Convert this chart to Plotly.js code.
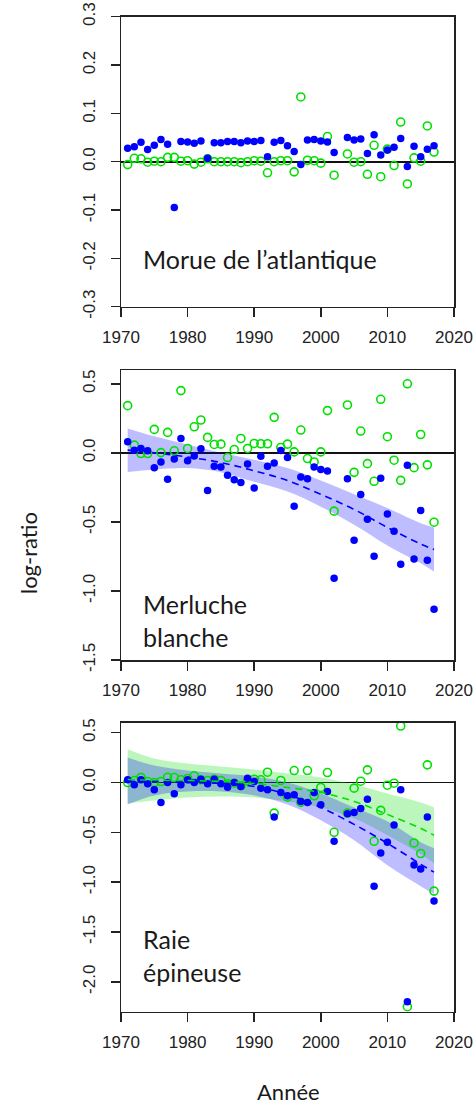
<!DOCTYPE html>
<html>
<head>
<meta charset="utf-8">
<script src="https://cdn.plot.ly/plotly-3.0.1.min.js"></script>
<style>html,body{margin:0;padding:0;background:#fff;}#chart{width:475px;height:1106px;}</style>
</head>
<body>
<div id="chart"></div>
<script>
// ---------- data ----------
const years = [1971,1972,1973,1974,1975,1976,1977,1978,1979,1980,1981,1982,1983,1984,1985,1986,1987,1988,1989,1990,1991,1992,1993,1994,1995,1996,1997,1998,1999,2000,2001,2002,2004,2005,2006,2007,2008,2009,2010,2011,2012,2013,2014,2015,2016,2017];

// Morue de l'atlantique
const codBlue = [0.028,0.031,0.040,0.025,0.034,0.046,0.036,-0.095,0.042,0.041,0.038,0.043,0.007,0.039,0.039,0.042,0.042,0.039,0.043,0.042,0.044,0.010,0.040,0.044,0.033,0.021,-0.006,0.045,0.046,0.043,0.041,0.019,0.050,0.045,0.047,0.017,0.056,0.014,0.024,0.030,0.048,-0.010,0.032,0.010,0.026,0.033];
const codGreen = [-0.006,0.007,0.006,-0.001,0.001,0.000,0.009,0.009,0.001,0.002,-0.005,-0.001,0.006,0.000,0.000,0.000,0.000,-0.002,0.000,0.002,0.001,-0.023,0.000,0.002,0.002,-0.021,0.134,0.003,0.002,-0.003,0.052,-0.028,0.016,-0.001,0.000,-0.026,0.034,-0.031,0.026,-0.008,0.082,-0.046,0.008,0.001,0.074,0.020];

// Merluche blanche
const hakeBlue = [0.080,0.019,0.032,0.015,-0.107,-0.066,-0.192,-0.044,0.104,-0.058,-0.022,0.029,-0.272,-0.097,-0.102,-0.163,-0.194,-0.214,-0.080,-0.255,-0.024,-0.097,-0.073,0.017,-0.034,-0.386,-0.175,-0.187,-0.102,-0.121,-0.131,-0.908,-0.187,-0.633,-0.301,-0.481,-0.748,-0.184,-0.442,-0.568,-0.806,-0.090,-0.769,-0.417,-0.777,-1.133];
const hakeGreen = [0.342,0.056,-0.005,-0.005,0.170,0.002,0.148,0.015,0.451,0.032,0.189,0.238,0.112,0.061,0.063,-0.034,0.024,0.104,0.032,0.068,0.066,0.066,0.257,0.039,0.063,0.007,0.165,-0.041,-0.066,0.007,0.306,-0.422,0.347,-0.141,0.158,-0.078,-0.206,0.388,0.117,-0.053,-0.199,0.500,-0.107,0.133,-0.087,-0.502];

// Raie épineuse
const skateBlue = [0.027,-0.023,0.027,-0.013,-0.073,-0.200,0.000,-0.113,-0.023,0.027,0.000,0.033,-0.013,0.033,-0.013,-0.047,0.000,-0.040,0.043,0.010,-0.057,-0.073,-0.347,-0.100,-0.133,-0.123,-0.190,-0.200,-0.100,-0.223,-0.090,-0.590,-0.313,-0.300,-0.260,-0.167,-1.040,-0.707,-0.600,-0.427,-0.073,-2.200,-0.827,-0.867,-0.347,-1.190];
const skateGreen = [0.000,0.020,0.050,0.010,0.000,0.010,0.053,0.050,0.027,0.040,0.067,0.027,0.020,0.033,0.020,-0.013,-0.007,-0.033,0.017,0.033,0.027,0.103,-0.307,0.020,-0.147,0.120,-0.200,0.120,-0.133,-0.050,0.100,-0.500,-0.307,-0.057,0.013,0.127,-0.590,-0.280,-0.027,-0.007,0.567,-2.250,-0.607,-0.713,0.177,-1.090];

// fitted trends
const fitYears = [1971,1975,1980,1985,1990,1995,2000,2005,2010,2015,2017];
const hakeFit   = [0.02,0.00,-0.03,-0.07,-0.13,-0.20,-0.30,-0.41,-0.54,-0.66,-0.70];
const hakeUpper = [0.177,0.12,0.06,0.00,-0.05,-0.11,-0.20,-0.30,-0.40,-0.51,-0.54];
const hakeLower = [-0.138,-0.12,-0.11,-0.14,-0.21,-0.28,-0.39,-0.52,-0.67,-0.80,-0.86];

const skateBlueFit   = [0.01,0.01,0.00,-0.01,-0.04,-0.12,-0.25,-0.42,-0.61,-0.82,-0.90];
const skateBlueUpper = [0.25,0.17,0.12,0.09,0.06,0.00,-0.11,-0.25,-0.39,-0.60,-0.66];
const skateBlueLower = [-0.22,-0.13,-0.09,-0.09,-0.13,-0.22,-0.38,-0.58,-0.83,-1.04,-1.12];
const skateGreenFit   = [0.03,0.02,0.02,0.01,-0.01,-0.05,-0.10,-0.19,-0.32,-0.46,-0.53];
const skateGreenUpper = [0.333,0.24,0.19,0.16,0.13,0.09,0.05,-0.02,-0.11,-0.20,-0.25];
const skateGreenLower = [-0.21,-0.18,-0.15,-0.14,-0.15,-0.19,-0.25,-0.36,-0.53,-0.72,-0.81];

// tick labels
const xTickVals = [1970,1980,1990,2000,2010,2020];
const xTickText = ['1970','1980','1990','2000','2010','2020'];
const y1TickVals = [0.3,0.2,0.1,0,-0.1,-0.2,-0.3];
const y1TickText = ['0.3','0.2','0.1','0.0','-0.1','-0.2','-0.3'];
const y2TickVals = [0.5,0,-0.5,-1,-1.5];
const y2TickText = ['0.5','0.0','-0.5','-1.0','-1.5'];
const y3TickVals = [0.5,0,-0.5,-1,-1.5,-2];
const y3TickText = ['0.5','0.0','-0.5','-1.0','-1.5','-2.0'];

const panelLabels = ['Morue de l’atlantique','Merluche<br>blanche','Raie<br>épineuse'];
const yTitle = 'log-ratio';
const xTitle = 'Année';

// ---------- styles ----------
const BLUE = '#0000FF', GREEN = '#00E000';
const BLUE_BAND = 'rgba(0,0,255,0.26)', GREEN_BAND = 'rgba(0,220,0,0.26)';

function band(xa, ya, lower, upper, color) {
  return [
    {x: fitYears, y: lower, xaxis: xa, yaxis: ya, mode: 'lines', line: {width: 0, shape: 'spline'}, hoverinfo: 'skip', showlegend: false},
    {x: fitYears, y: upper, xaxis: xa, yaxis: ya, mode: 'lines', fill: 'tonexty', fillcolor: color, line: {width: 0, shape: 'spline'}, hoverinfo: 'skip', showlegend: false}
  ];
}
function fitLine(xa, ya, y, color) {
  return {x: fitYears, y: y, xaxis: xa, yaxis: ya, mode: 'lines', line: {color: color, width: 1.6, dash: '7px,5px', shape: 'spline'}, showlegend: false};
}
function blueDots(xa, ya, y) {
  return {x: years, y: y, xaxis: xa, yaxis: ya, mode: 'markers', marker: {color: BLUE, size: 7.5, symbol: 'circle'}, showlegend: false};
}
function greenRings(xa, ya, y) {
  return {x: years, y: y, xaxis: xa, yaxis: ya, mode: 'markers', marker: {color: GREEN, size: 8, symbol: 'circle-open', line: {color: GREEN, width: 1.6}}, showlegend: false};
}

const traces = [
  greenRings('x', 'y', codGreen),
  blueDots('x', 'y', codBlue),

  ...band('x2', 'y2', hakeLower, hakeUpper, BLUE_BAND),
  fitLine('x2', 'y2', hakeFit, BLUE),
  greenRings('x2', 'y2', hakeGreen),
  blueDots('x2', 'y2', hakeBlue),

  ...band('x3', 'y3', skateGreenLower, skateGreenUpper, GREEN_BAND),
  ...band('x3', 'y3', skateBlueLower, skateBlueUpper, BLUE_BAND),
  greenRings('x3', 'y3', skateGreen),
  blueDots('x3', 'y3', skateBlue),
  fitLine('x3', 'y3', skateGreenFit, GREEN),
  fitLine('x3', 'y3', skateBlueFit, BLUE)
];

const W = 475, H = 1106;
const tickFont = {family: 'Liberation Sans, Arial, sans-serif', size: 17, color: '#222'};
function xAxis(anchor) {
  return {
    domain: [121 / W, 454 / W], anchor: anchor, range: [1970, 2020],
    tickvals: xTickVals, ticktext: xTickText, ticks: 'outside', ticklen: 9, tickwidth: 1.5, tickcolor: '#222',
    showline: true, mirror: true, linecolor: '#222', linewidth: 1.5, showgrid: false, zeroline: false,
    tickfont: tickFont, ticklabelstandoff: 5, fixedrange: true
  };
}
function yAxis(top, bottom, anchor, range, vals, text) {
  return {
    domain: [1 - bottom / H, 1 - top / H], anchor: anchor, range: range,
    tickvals: vals, ticktext: text, tickangle: -90, ticks: 'outside', ticklen: 9, tickwidth: 1.5, tickcolor: '#222',
    showline: true, mirror: true, linecolor: '#222', linewidth: 1.5, showgrid: false,
    zeroline: true, zerolinecolor: '#111', zerolinewidth: 1.8,
    tickfont: tickFont, ticklabelstandoff: 9, fixedrange: true
  };
}

const labelFont = {family: 'Lato, Carlito, sans-serif', size: 25, color: '#1a1a1a'};
const titleFont = {family: 'Lato, sans-serif', size: 22, color: '#1a1a1a'};
const layout = {
  width: W, height: H,
  margin: {l: 0, r: 0, t: 0, b: 0},
  paper_bgcolor: '#fff', plot_bgcolor: '#fff',
  showlegend: false,
  xaxis: xAxis('y'),
  yaxis: yAxis(16.7, 306.7, 'x', [-0.3, 0.3], y1TickVals, y1TickText),
  xaxis2: xAxis('y2'),
  yaxis2: yAxis(370, 660, 'x2', [-1.5, 0.6], y2TickVals, y2TickText),
  xaxis3: xAxis('y3'),
  yaxis3: yAxis(722.7, 1011.7, 'x3', [-2.3, 0.6], y3TickVals, y3TickText),
  annotations: [
    {text: panelLabels[0], xref: 'paper', yref: 'paper', x: 141 / W, y: 1 - 259 / H, xanchor: 'left', yanchor: 'middle', showarrow: false, font: labelFont, align: 'left'},
    {text: panelLabels[1], xref: 'paper', yref: 'paper', x: 141 / W, y: 1 - 620 / H, xanchor: 'left', yanchor: 'middle', showarrow: false, font: labelFont, align: 'left'},
    {text: panelLabels[2], xref: 'paper', yref: 'paper', x: 141 / W, y: 1 - 955 / H, xanchor: 'left', yanchor: 'middle', showarrow: false, font: labelFont, align: 'left'},
    {text: yTitle, xref: 'paper', yref: 'paper', x: 28 / W, y: 1 - 553 / H, xanchor: 'center', yanchor: 'middle', textangle: -90, showarrow: false, font: titleFont},
    {text: xTitle, xref: 'paper', yref: 'paper', x: 288 / W, y: 1 - 1091 / H, xanchor: 'center', yanchor: 'middle', showarrow: false, font: titleFont}
  ]
};

Plotly.newPlot('chart', traces, layout, {staticPlot: true, displayModeBar: false});
</script>
</body>
</html>
